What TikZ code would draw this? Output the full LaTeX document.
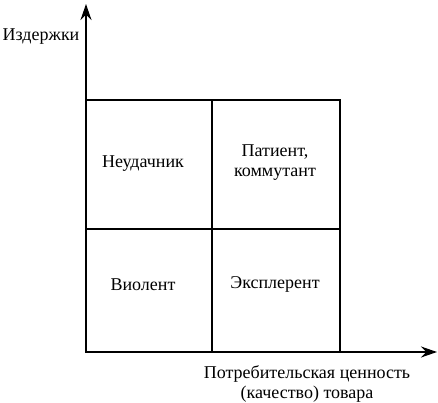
\documentclass[tikz,border=0pt]{standalone}
\usepackage{fontspec}
\setmainfont{Liberation Serif}
\usetikzlibrary{arrows.meta}
\begin{document}
\begin{tikzpicture}[x=1pt,y=-1pt,
  quad/.style={draw,line width=1.1pt,inner sep=0pt},
  axis/.style={line width=1.5pt,-{Stealth[length=16pt,width=11pt]}},
  lbl/.style={font=\fontsize{18}{20}\selectfont,align=center,inner sep=0pt}]
\useasboundingbox (0,0) rectangle (438,403);
\coordinate (O) at (86,352);
\coordinate (ytip) at (86,4);
\coordinate (xtip) at (437,352);
\node[quad,minimum width=126pt,minimum height=129pt] (nw) at (149,164.5) {};
\node[quad,minimum width=128pt,minimum height=129pt] (ne) at (276,164.5) {};
\node[quad,minimum width=126pt,minimum height=123pt] (sw) at (149,290.5) {};
\node[quad,minimum width=128pt,minimum height=123pt] (se) at (276,290.5) {};
\node[lbl] (t1) at ([xshift=-6pt,yshift=1pt]nw.center) {Неудачник};
\node[lbl] (t2) at ([xshift=-1pt,yshift=2pt]ne.center) {Патиент,\\коммутант};
\node[lbl] (t3) at ([xshift=-6pt,yshift=6pt]sw.center) {Виолент};
\node[lbl] (t4) at ([xshift=-1pt,yshift=6pt]se.center) {Эксплерент};
\draw[axis] (O) -- (ytip);
\draw[axis] (O) -- (xtip);
\node[lbl] (ylab) at (41,37) {Издержки};
\node[lbl] (xlab) at (307,384) {Потребительская ценность\\(качество) товара};
\end{tikzpicture}
\end{document}
